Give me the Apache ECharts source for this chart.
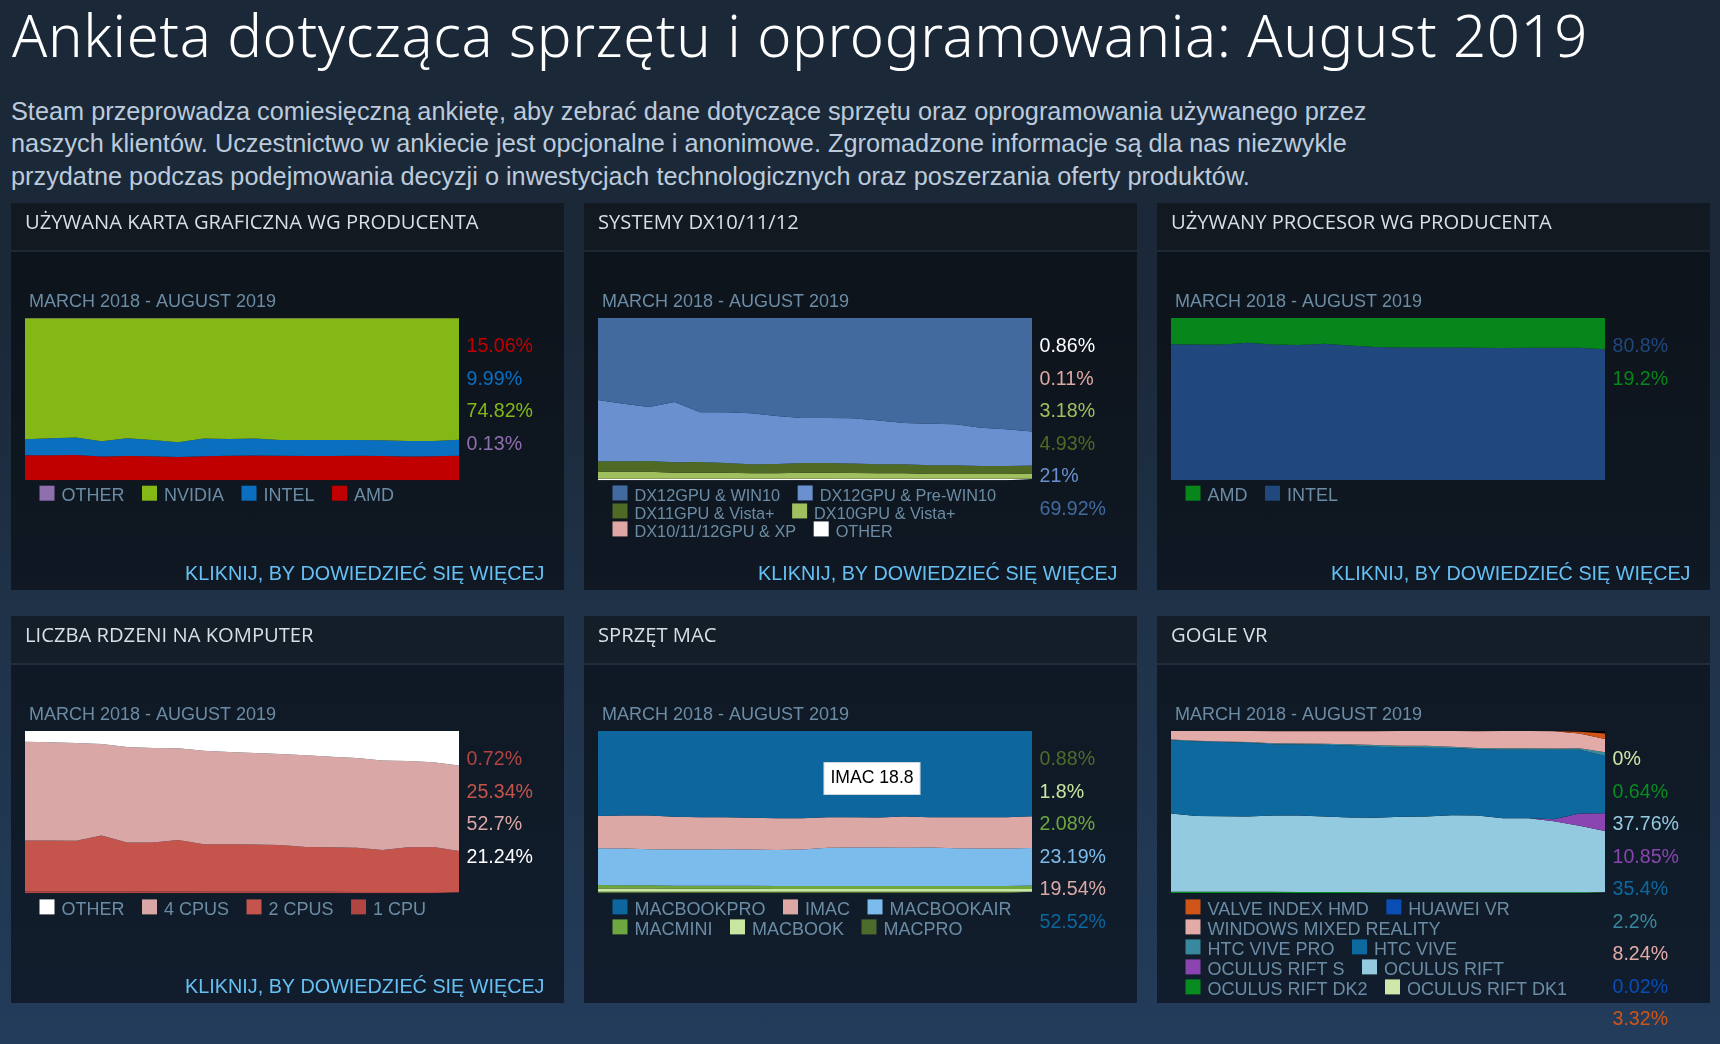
<!DOCTYPE html>
<html lang="pl"><head><meta charset="utf-8">
<script src="https://cdn.jsdelivr.net/npm/echarts@6/dist/echarts.min.js"></script>
<style>
html,body{margin:0;padding:0;width:1720px;height:1044px;overflow:hidden;background:linear-gradient(180deg,#1b2838 0,#1b2838 300px,#1f3248 620px,#233c5b 1044px);}
h1{position:absolute;left:12px;top:-5px;margin:0;font:300 58px "Noto Sans","Open Sans",sans-serif;color:#fff;white-space:nowrap;line-height:80px;letter-spacing:.66px}
p{position:absolute;left:11px;top:94.5px;margin:0;font:25.3px/32.5px "Liberation Sans",Arial,sans-serif;color:#bccbdc;white-space:nowrap}
.panel{position:absolute;width:553px;height:387px;background:rgba(0,0,0,.5)}
.panel i{position:absolute;left:0;right:0;top:0;height:47px;background:rgba(255,255,255,.025);border-bottom:2px solid rgba(120,160,200,.12)}
.chart{position:absolute;width:553px}
</style></head><body>
<h1>Ankieta dotycząca sprzętu i oprogramowania: August 2019</h1>
<p>Steam przeprowadza comiesięczną ankietę, aby zebrać dane dotyczące sprzętu oraz oprogramowania używanego przez<br>naszych klientów. Uczestnictwo w ankiecie jest opcjonalne i anonimowe. Zgromadzone informacje są dla nas niezwykle<br>przydatne podczas podejmowania decyzji o inwestycjach technologicznych oraz poszerzania oferty produktów.</p>
<script>
const months=['2018-03','2018-04','2018-05','2018-06','2018-07','2018-08','2018-09','2018-10','2018-11','2018-12','2019-01','2019-02','2019-03','2019-04','2019-05','2019-06','2019-07','2019-08'];
const rangeLabel='MARCH 2018 - AUGUST 2019';
const linkLabel='KLIKNIJ, BY DOWIEDZIEĆ SIĘ WIĘCEJ';
const tooltipLabel='IMAC 18.8';

// GPU
const gpuAmd=[15.4,15.5,15.6,14.6,15.0,14.8,14.4,14.8,15.2,15.3,15.2,14.9,15.0,15.2,14.9,14.7,14.8,15.06];
const gpuIntel=[9.9,10.4,10.7,9.4,10.9,10.0,9.0,10.9,10.3,10.4,9.6,9.9,9.8,9.6,9.7,9.5,9.4,9.99];
const gpuNvidia=[74.6,74.0,73.6,75.9,74.0,75.1,76.5,74.2,74.4,74.2,75.1,75.1,75.1,75.1,75.3,75.7,75.7,74.82];
const gpuOther=[0.1,0.1,0.1,0.1,0.1,0.1,0.1,0.1,0.1,0.1,0.1,0.1,0.1,0.1,0.1,0.1,0.1,0.13];
// DX
const dxOther=[0.85,0.85,0.85,0.85,0.85,0.85,0.85,0.85,0.85,0.85,0.85,0.85,0.85,0.85,0.85,0.85,0.85,0.86];
const dxXp=[0.15,0.15,0.15,0.15,0.15,0.15,0.15,0.15,0.15,0.15,0.15,0.15,0.15,0.15,0.15,0.15,0.15,0.11];
const dx10=[4.3,4.3,4.3,3.7,3.7,3.7,3.3,3.3,3.7,3.7,3.5,3.3,3.3,2.9,2.9,2.9,2.9,3.18];
const dx11=[6.4,6.4,6.6,6.4,6.6,6.0,5.6,5.8,6.0,6.0,5.8,5.6,5.6,5.3,5.3,4.9,4.9,4.93];
const dx12Pre=[37.8,35.5,33.3,37.2,30.6,31.2,31.4,29.5,27.7,27.7,27.9,26.9,25.4,25.7,25.3,23.6,22.6,21.0];
const dx12Win10=[50.5,52.8,54.8,51.7,58.1,58.1,58.7,60.4,61.6,61.6,61.8,63.2,64.7,65.1,65.5,67.6,68.6,69.92];
// CPU vendor
const cpuIntel=[83.8,83.6,83.6,84.8,83.6,83.4,84.2,83.0,82.1,81.9,81.9,81.9,81.7,81.5,81.7,81.7,81.7,80.8];
const cpuAmd=[16.2,16.4,16.4,15.2,16.4,16.6,15.8,17.0,17.9,18.1,18.1,18.1,18.3,18.5,18.3,18.3,18.3,19.2];
// Cores
const core1=[1.3,1.3,1.2,1.2,1.2,1.1,1.1,1.0,1.0,1.0,0.9,0.9,0.9,0.8,0.8,0.8,0.8,0.72];
const core2=[31.2,31.2,31.2,34.4,30.1,30.2,31.8,29.2,29.2,29.0,28.9,27.7,27.5,27.2,25.9,27.6,27.8,25.34];
const core4=[60.9,60.5,60.2,56.4,58.8,58.2,56.4,57.7,56.8,56.4,56.0,56.4,55.8,55.4,55.2,53.1,52.1,52.7];
const coreOther=[6.6,7.0,7.4,8.0,9.9,10.5,10.7,12.1,13.0,13.6,14.2,15.0,15.8,16.6,18.1,18.5,19.3,21.24];
// Mac
const macPro=[1.0,1.0,1.0,0.9,0.9,0.9,0.9,0.9,0.9,0.9,0.9,0.9,0.9,0.9,0.9,0.9,0.9,0.88];
const macBook=[2.0,1.9,1.9,1.9,1.9,1.9,1.9,1.8,1.8,1.8,1.8,1.8,1.8,1.8,1.8,1.8,1.8,1.8];
const macMini=[2.1,2.0,2.0,1.9,1.9,1.9,1.9,1.8,1.8,1.8,1.8,1.8,1.8,1.8,1.8,1.8,1.8,2.08];
const macAir=[22.7,22.7,22.3,22.3,22.3,22.5,22.3,22.2,22.5,23.5,23.7,23.7,23.5,23.7,23.3,23.1,23.1,23.19];
const iMac=[19.9,20.3,20.7,20.1,19.9,19.7,19.5,19.6,19.3,18.9,18.7,18.5,19.3,18.7,19.1,19.3,19.3,19.54];
const macBookPro=[52.3,52.1,52.1,52.9,53.1,53.1,53.5,53.7,53.7,53.1,53.1,53.3,52.7,53.1,53.1,53.1,53.1,52.52];
// VR
const vrDk1=[0,0,0,0,0,0,0,0,0,0,0,0,0,0,0,0,0,0];
const vrDk2=[1.0,1.0,0.9,0.9,0.9,0.8,0.8,0.8,0.7,0.7,0.7,0.7,0.7,0.7,0.7,0.7,0.7,0.64];
const vrRift=[48.2,46.7,46.6,46.4,47.0,47.1,46.5,45.9,45.8,46.4,46.6,47.4,47.2,45.6,45.6,43.7,40.9,37.76];
const vrRiftS=[0,0,0,0,0,0,0,0,0,0,0,0,0,0,0,1.2,7.6,10.85];
const vrVive=[45.1,45.9,45.7,45.5,44.0,43.8,44.2,44.4,43.8,42.8,42.4,41.4,40.9,42.2,42.2,42.8,39.3,35.4];
const vrVivePro=[0.4,0.4,0.4,0.4,0.6,0.6,0.6,0.8,1.0,1.0,1.2,0.8,0.8,0.8,0.8,0.8,0.8,2.2];
const vrWmr=[5.3,6.0,6.4,6.8,7.4,7.6,7.8,8.0,8.6,9.1,9.1,9.7,10.3,10.7,10.7,10.6,9.1,8.24];
const vrHuawei=[0,0,0,0,0,0,0,0,0,0,0,0,0,0,0,0,0,0.02];
const vrValve=[0,0,0,0,0,0,0,0,0,0,0,0,0,0,0,0.1,1.2,3.32];

const panels=[
 {title:'UŻYWANA KARTA GRAFICZNA WG PRODUCENTA',x:11,y:203,link:true,
  series:[['AMD',gpuAmd,'#c00000','15.06%'],['INTEL',gpuIntel,'#0b6fc0','9.99%'],['NVIDIA',gpuNvidia,'#84b817','74.82%'],['OTHER',gpuOther,'#8f6fae','0.13%']],
  rows:[['OTHER','NVIDIA','INTEL','AMD']],rowTop:294.7,rowGap:20,legendSize:18},
 {title:'SYSTEMY DX10/11/12',x:584,y:203,link:true,
  series:[['OTHER',dxOther,'#ffffff','0.86%'],['DX10/11/12GPU & XP',dxXp,'#e0a8a4','0.11%'],['DX10GPU & Vista+',dx10,'#a0c060','3.18%'],['DX11GPU & Vista+',dx11,'#4e6a24','4.93%'],['DX12GPU & Pre-WIN10',dx12Pre,'#6a90d0','21%'],['DX12GPU & WIN10',dx12Win10,'#426a9f','69.92%']],
  rows:[['DX12GPU & WIN10','DX12GPU & Pre-WIN10'],['DX11GPU & Vista+','DX10GPU & Vista+'],['DX10/11/12GPU & XP','OTHER']],rowTop:293.6,rowGap:18,legendSize:16.3},
 {title:'UŻYWANY PROCESOR WG PRODUCENTA',x:1157,y:203,link:true,
  series:[['INTEL',cpuIntel,'#20487e','80.8%'],['AMD',cpuAmd,'#07861c','19.2%']],
  rows:[['AMD','INTEL']],rowTop:294.7,rowGap:20,legendSize:18},
 {title:'LICZBA RDZENI NA KOMPUTER',x:11,y:616,link:true,
  series:[['1 CPU',core1,'#b04542','0.72%'],['2 CPUS',core2,'#c4544c','25.34%'],['4 CPUS',core4,'#d9a7a5','52.7%'],['OTHER',coreOther,'#ffffff','21.24%']],
  rows:[['OTHER','4 CPUS','2 CPUS','1 CPU']],rowTop:295.4,rowGap:20,legendSize:18},
 {title:'SPRZĘT MAC',x:584,y:616,link:false,tooltip:tooltipLabel,
  series:[['MACPRO',macPro,'#4d6c2c','0.88%'],['MACBOOK',macBook,'#c8e6a0','1.8%'],['MACMINI',macMini,'#6ea640','2.08%'],['MACBOOKAIR',macAir,'#7cbcec','23.19%'],['IMAC',iMac,'#dba8a6','19.54%'],['MACBOOKPRO',macBookPro,'#0e669e','52.52%']],
  rows:[['MACBOOKPRO','IMAC','MACBOOKAIR'],['MACMINI','MACBOOK','MACPRO']],rowTop:295.4,rowGap:20,legendSize:18},
 {title:'GOGLE VR',x:1157,y:616,link:false,plotBg:'#000000',
  series:[['OCULUS RIFT DK1',vrDk1,'#cde8a8','0%'],['OCULUS RIFT DK2',vrDk2,'#088c20','0.64%'],['OCULUS RIFT',vrRift,'#94cadf','37.76%'],['OCULUS RIFT S',vrRiftS,'#8a45b0','10.85%'],['HTC VIVE',vrVive,'#0e699f','35.4%'],['HTC VIVE PRO',vrVivePro,'#38889e','2.2%'],['WINDOWS MIXED REALITY',vrWmr,'#e3aba8','8.24%'],['HUAWEI VR',vrHuawei,'#0a4db5','0.02%'],['VALVE INDEX HMD',vrValve,'#cf5418','3.32%']],
  rows:[['VALVE INDEX HMD','HUAWEI VR'],['WINDOWS MIXED REALITY'],['HTC VIVE PRO','HTC VIVE'],['OCULUS RIFT S','OCULUS RIFT'],['OCULUS RIFT DK2','OCULUS RIFT DK1']],rowTop:295.4,rowGap:20,legendSize:18}
];

const armo='"Liberation Sans",Arial,sans-serif';
panels.forEach(p=>{
  const bg=document.createElement('div');bg.className='panel';bg.style.left=p.x+'px';bg.style.top=p.y+'px';bg.innerHTML='<i></i>';document.body.appendChild(bg);
  const el=document.createElement('div');el.className='chart';el.style.left=p.x+'px';el.style.top=p.y+'px';el.style.height=(p.y>400?428:387)+'px';document.body.appendChild(el);
  const chart=echarts.init(el);
  const text=(t,x,y,font,fill,align)=>({type:'text',z:50,style:{text:t,x,y,font,fill,align:align||'left',verticalAlign:'middle'}});
  const g=[text(p.title,14,20.5,'400 20.2px "Open Sans","Noto Sans",sans-serif','#d9dfe6'),
           text(rangeLabel,18,99,'18px '+armo,'#6b8ca4')];
  p.series.forEach((s,i)=>g.push(text(s[3],455.5,143.6+i*32.5,'19.6px '+armo,s[2])));
  if(p.link)g.push(text(linkLabel,533.5,371.5,'19.8px '+armo,'#66c0f4','right'));
  if(p.tooltip)g.push({type:'text',z:60,style:{text:p.tooltip,x:288,y:162.5,align:'center',verticalAlign:'middle',font:'17.6px '+armo,fill:'#000',backgroundColor:'#fff',borderColor:'#cfd4d8',borderWidth:1,padding:[7,6,6,6]}});
  const lh=p.legendSize+6;
  chart.setOption({
    animation:false,
    grid:{left:14,top:115,width:434,height:162.3,show:!!p.plotBg,backgroundColor:p.plotBg||'transparent',borderWidth:0},
    xAxis:{type:'category',data:months,boundaryGap:false,show:false},
    yAxis:{type:'value',min:0,max:100,show:false},
    legend:p.rows.map((r,i)=>({data:r,left:28.5,top:p.rowTop+i*p.rowGap-lh/2,padding:0,itemGap:17.5,itemWidth:15,itemHeight:15,icon:'rect',selectedMode:false,orient:'horizontal',
      itemStyle:{borderWidth:0},
      formatter:'{a|{name}}',
      textStyle:{rich:{a:{color:'#6b8ca4',fontSize:p.legendSize,fontFamily:'Liberation Sans',lineHeight:lh,verticalAlign:'bottom',padding:[0,0,0,2]}}}})),
    series:p.series.map(s=>({name:s[0],type:'line',stack:'total',data:s[1],color:s[2],showSymbol:false,symbol:'none',smooth:false,lineStyle:{width:0},areaStyle:{color:s[2],opacity:1},silent:true,z:2})),
    graphic:g
  });
});
</script>
</body></html>
